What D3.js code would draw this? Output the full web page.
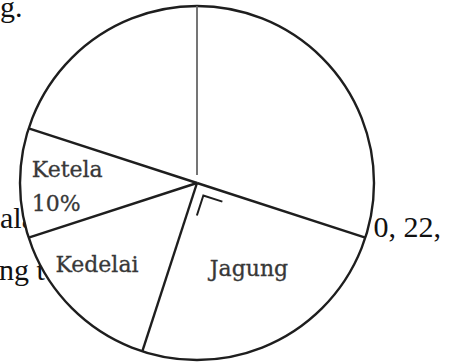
<!DOCTYPE html>
<html>
<head>
<meta charset="utf-8">
<script src="https://cdn.jsdelivr.net/npm/d3@7"></script>
<style>
  body { margin: 0; background: #fff; }
  svg { display: block; }
</style>
</head>
<body>
<svg id="chart" width="454" height="363"></svg>
<script>
// slices, clockwise from 12 o'clock (two slices are left unnamed in the source)
var categories = ["", "Jagung", "Kedelai", "Ketela", ""];
var percents = [30, 25, 15, 10, 20];
var shownPercent = ["", "", "", "10%", ""];
// stray words of the page text around the figure
var pageWords = ["g.", "ala", "ng te", "0, 22,"];

var width = 454, height = 363;
var cx = 197, cy = 183, radius = 177;

var svg = d3.select("#chart");

// page text behind the chart (partly covered by the white pie)
var wordPos = [
  {x: 0, y: 17, anchor: "start"},
  {x: 0, y: 228, anchor: "start"},
  {x: -1, y: 280, anchor: "start"},
  {x: 441, y: 237, anchor: "end"}
];
svg.append("g").selectAll("text")
  .data(pageWords)
  .enter().append("text")
  .attr("x", function(d, i) { return wordPos[i].x; })
  .attr("y", function(d, i) { return wordPos[i].y; })
  .attr("text-anchor", function(d, i) { return wordPos[i].anchor; })
  .style("font-family", "'Liberation Serif', 'Times New Roman', serif")
  .style("font-size", "30px")
  .style("fill", "#111")
  .text(function(d) { return d; });

var slices = categories.map(function(c, i) {
  return {name: c, value: percents[i], label: shownPercent[i]};
});

var pie = d3.pie().sort(null).value(function(d) { return d.value; });
var arcs = pie(slices);

var arc = d3.arc().innerRadius(0).outerRadius(radius);

var g = svg.append("g").attr("transform", "translate(" + cx + "," + cy + ")");

// white wedges
g.selectAll("path.slice")
  .data(arcs)
  .enter().append("path")
  .attr("class", "slice")
  .attr("d", arc)
  .style("fill", "#fff")
  .style("stroke", "none");

// outline
g.append("circle")
  .attr("r", radius)
  .style("fill", "none")
  .style("stroke", "#1e1e1e")
  .style("stroke-width", 2.4);

// dividing lines, first one (12 o'clock) is the lighter one
g.selectAll("line.spoke")
  .data(arcs)
  .enter().append("line")
  .attr("class", "spoke")
  .attr("x1", function(d, i) { return i === 0 ? d3.pointRadial(d.startAngle, 8)[0] : 0; })
  .attr("y1", function(d, i) { return i === 0 ? d3.pointRadial(d.startAngle, 8)[1] : 0; })
  .attr("x2", function(d) { return d3.pointRadial(d.startAngle, radius)[0]; })
  .attr("y2", function(d) { return d3.pointRadial(d.startAngle, radius)[1]; })
  .style("stroke", function(d, i) { return i === 0 ? "#666" : "#1e1e1e"; })
  .style("stroke-width", function(d, i) { return i === 0 ? 1.8 : 2.4; });

// right angle mark in the Jagung slice
var jag = arcs[1];
var mid = (jag.startAngle + jag.endAngle) / 2;
var corner = d3.pointRadial(mid, 14);
var armA = d3.pointRadial(jag.startAngle, 20);
var armB = d3.pointRadial(jag.endAngle, 21);
g.append("path")
  .attr("d", d3.line()([
    [corner[0] + armB[0], corner[1] + armB[1]],
    corner,
    [corner[0] + armA[0], corner[1] + armA[1]]
  ]))
  .style("fill", "none")
  .style("stroke", "#1e1e1e")
  .style("stroke-width", 2);

// slice labels
var labelNudge = {
  "Jagung": {r: 0.57, da: -0.07},
  "Kedelai": {r: 0.73, da: 0.1},
  "Ketela": {r: 0.73, da: 0}
};
var labels = g.selectAll("text.lbl")
  .data(arcs.filter(function(d) { return d.data.name !== ""; }))
  .enter().append("text")
  .attr("class", "lbl")
  .attr("transform", function(d) {
    var n = labelNudge[d.data.name];
    var p = d3.pointRadial((d.startAngle + d.endAngle) / 2 + n.da, radius * n.r);
    return "translate(" + p[0] + "," + p[1] + ")";
  })
  .attr("text-anchor", function(d) { return d.data.label ? "start" : "middle"; })
  .style("font-family", "'DejaVu Serif', serif")
  .style("font-size", "22px")
  .style("fill", "#383838")
  .style("stroke", "#383838")
  .style("stroke-width", 0.3);

labels.each(function(d) {
  var t = d3.select(this);
  if (d.data.label) {
    t.append("tspan").attr("x", -36).attr("y", -6).text(d.data.name);
    t.append("tspan").attr("x", -36).attr("y", 28).text(d.data.label);
  } else {
    t.append("tspan").attr("x", 0).attr("y", 7).text(d.data.name);
  }
});
</script>
</body>
</html>
